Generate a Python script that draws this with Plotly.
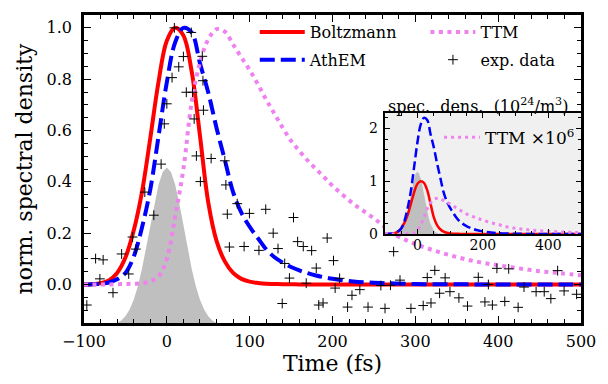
import plotly.graph_objects as go

# ---------------- data ----------------
T = [-100, -90, -80, -70, -60, -50, -40, -30, -20, -10, 0, 10, 20, 30, 40, 50, 60, 70, 80, 90,
     100, 110, 120, 130, 140, 150, 160, 170, 180, 190, 200, 225, 250, 275, 300, 325, 350, 375,
     400, 425, 450, 475, 500]

BOLTZMANN = [0.0, 0.001, 0.005, 0.016, 0.045, 0.105, 0.21, 0.36, 0.57, 0.79, 0.95, 1.0, 0.97,
             0.83, 0.58, 0.32, 0.17, 0.09, 0.045, 0.022, 0.011, 0.006, 0.003, 0.002, 0.001,
             0.001, 0.0, 0.0, 0.0, 0.0, 0.0, 0.0, 0.0, 0.0, 0.0, 0.0, 0.0, 0.0, 0.0, 0.0, 0.0,
             0.0, 0.0]

ATHEM = [0.0, 0.001, 0.003, 0.008, 0.02, 0.045, 0.108, 0.222, 0.37, 0.578, 0.788, 0.943, 1.0,
         0.982, 0.862, 0.748, 0.61, 0.485, 0.36, 0.28, 0.225, 0.18, 0.137, 0.106, 0.085, 0.068,
         0.055, 0.044, 0.035, 0.028, 0.022, 0.012, 0.007, 0.004, 0.002, 0.001, 0.001, 0.0, 0.0,
         0.0, 0.0, 0.0, 0.0]

TTM = [0.0, 0.0, 0.0, 0.0, 0.001, 0.002, 0.003, 0.005, 0.012, 0.032, 0.10, 0.265, 0.45, 0.71,
       0.865, 0.955, 0.995, 0.985, 0.935, 0.885, 0.835, 0.78, 0.72, 0.665, 0.61, 0.56, 0.52,
       0.483, 0.45, 0.418, 0.385, 0.315, 0.258, 0.195, 0.158, 0.13, 0.107, 0.088, 0.075, 0.063,
       0.052, 0.044, 0.036]

T_PULSE = [-100, -80, -70, -60, -55, -50, -45, -40, -35, -30, -25, -20, -15, -10, -5, 0, 5, 10,
           15, 20, 25, 30, 35, 40, 45, 50, 55, 60, 70, 80, 100]
PULSE = [0.0, 0.001, 0.004, 0.017, 0.032, 0.059, 0.101, 0.163, 0.249, 0.36, 0.492, 0.635, 0.775,
         0.893, 0.972, 1.0, 0.972, 0.893, 0.775, 0.635, 0.492, 0.36, 0.249, 0.163, 0.101, 0.059,
         0.032, 0.017, 0.004, 0.001, 0.0]

EXP_T = [-96.6, -86, -76.9, -80.8, -65, -54.6, -46, -41.4, -37.4, -26.6, -15.7, -6.9, -3.1, 0.0,
         6.3, 14.4, 20, 9.1, 29.5, 42.8, 43.6, 23.5, 31, 44.2, 33, 35.7, 53.5, 70, 40.5, 71.3,
         85, 73, 99.7, 119.4, 75.5, 93.3, 111.2, 128.4, 134.2, 142.3, 148, 139.3, 152.9, 157.9,
         164.7, 174.8, 180.4, 168.3, 183.4, 188.6, 193.6, 201.2, 208.6, 203.2, 223.5, 233,
         218.2, 242.9, 258.4, 263.4, 270, 273.8, 281.5, 294.7, 309.5, 318.9, 314.4, 323.5, 336,
         329.3, 341.8, 352.6, 363, 376, 384, 393, 388.2, 398.5, 412.7, 408, 424.1, 431.2, 445.8,
         455.6, 463.6, 471.8, 479.6, 494.7]
EXP_V = [-0.080, 0.101, 0.096, 0.022, -0.032, 0.119, 0.041, 0.185, 0.138, 0.36, 0.27, 0.469,
         0.626, 0.704, 0.806, 0.848, 0.888, 1.0, 0.982, 0.889, 0.794, 0.749, 0.749, 0.679, 0.645,
         0.501, 0.491, 0.482, 0.401, 0.388, 0.315, 0.274, 0.277, 0.293, 0.146, 0.148, 0.133,
         0.2, 0.14, 0.082, 0.025, -0.074, 0.261, 0.167, 0.148, 0.132, 0.064, 0.005, -0.08,
         -0.072, 0.181, 0.093, 0.024, -0.014, -0.042, -0.02, -0.088, -0.088, -0.004, -0.093,
         -0.003, 0.128, 0.017, -0.093, -0.082, -0.072, 0.027, 0.055, 0.026, -0.034, -0.028,
         -0.052, -0.084, 0.028, -0.068, -0.08, 0.0, 0.063, 0.061, -0.066, -0.089, -0.01, -0.028,
         -0.028, -0.055, 0.054, -0.025, -0.038]

# peak values of the absolute densities shown in the inset (10^24 / m^3)
BOLTZ_PEAK = 1.0
ATHEM_PEAK = 2.2
PULSE_PEAK = 1.18
TTM_PEAK_E6 = 0.68

X_TICKS = [-100, 0, 100, 200, 300, 400, 500]
Y_TICKS = [0.0, 0.2, 0.4, 0.6, 0.8, 1.0]

# ---------------- styling ----------------
FONT = "DejaVu Serif"
RED = "#ff0000"
BLUE = "#0000ff"
VIOLET = "#ee82ee"
GRAY = "#bfbfbf"
PULSE_OFFSET = -0.16
PULSE_SCALE = 0.616
MAIN_XR = [-100, 500]
MAIN_YR = [-0.15, 1.05]
INSET_XR = [-100, 500]
INSET_YR = [0, 2.3]

fig = go.Figure()

# main panel
fig.add_trace(go.Scatter(x=T_PULSE, y=[PULSE_OFFSET + PULSE_SCALE * p for p in PULSE],
                         mode="lines", fill="toself", fillcolor=GRAY,
                         line=dict(width=0, color="rgba(0,0,0,0)"),
                         showlegend=False, hoverinfo="skip"))
fig.add_trace(go.Scatter(x=T, y=BOLTZMANN, mode="lines", name="Boltzmann",
                         line=dict(color=RED, width=4, shape="spline"),
                         legend="legend", legendgroup="g1"))
fig.add_trace(go.Scatter(x=T, y=ATHEM, mode="lines", name="AthEM",
                         line=dict(color=BLUE, width=4, dash="15px,6px", shape="spline"),
                         legend="legend", legendgroup="g2"))
fig.add_trace(go.Scatter(x=T, y=TTM, mode="lines", name="TTM",
                         line=dict(color=VIOLET, width=4, dash="4px,4.5px", shape="spline"),
                         legend="legend2", legendgroup="g3"))
fig.add_trace(go.Scatter(x=EXP_T, y=EXP_V, mode="markers", name="exp. data",
                         marker=dict(symbol="cross-thin", size=7, color="black",
                                     line=dict(width=1, color="black")),
                         legend="legend2", legendgroup="g4"))

# inset
fig.add_trace(go.Scatter(x=T_PULSE, y=[PULSE_PEAK * p for p in PULSE], mode="lines",
                         fill="tozeroy", fillcolor=GRAY, line=dict(width=0, color="rgba(0,0,0,0)"),
                         xaxis="x2", yaxis="y2", showlegend=False, hoverinfo="skip"))
fig.add_trace(go.Scatter(x=T, y=[BOLTZ_PEAK * v for v in BOLTZMANN], mode="lines",
                         line=dict(color=RED, width=2.5, shape="spline"),
                         xaxis="x2", yaxis="y2", showlegend=False))
fig.add_trace(go.Scatter(x=T, y=[ATHEM_PEAK * v for v in ATHEM], mode="lines",
                         line=dict(color=BLUE, width=2.5, dash="9px,4px", shape="spline"),
                         xaxis="x2", yaxis="y2", showlegend=False))
fig.add_trace(go.Scatter(x=T, y=[TTM_PEAK_E6 * v for v in TTM], mode="lines",
                         name="TTM ×10<sup>6</sup>",
                         line=dict(color=VIOLET, width=3, dash="3px,4px", shape="spline"),
                         xaxis="x2", yaxis="y2", legend="legend3"))

axis_common = dict(showline=True, linecolor="black", mirror="allticks", ticks="inside",
                   tickcolor="black", showgrid=False, zeroline=False)

fig.update_layout(
    width=608, height=384,
    margin=dict(l=84, r=17, t=12, b=61),
    paper_bgcolor="white", plot_bgcolor="white",
    font=dict(family=FONT, color="black"),
    xaxis=dict(**axis_common, domain=[0, 1], anchor="y", range=MAIN_XR,
               tickvals=X_TICKS, linewidth=2.5, ticklen=7, tickwidth=1.3,
               minor=dict(dtick=20, tick0=0, ticklen=4, tickwidth=1, ticks="inside",
                          tickcolor="black"),
               tickfont=dict(family=FONT, size=16), ticklabelstandoff=2,
               title=dict(text="Time (fs)", font=dict(family=FONT, size=22), standoff=4)),
    yaxis=dict(**axis_common, domain=[0, 1], anchor="x", range=MAIN_YR,
               tickvals=Y_TICKS, tickformat=".1f", linewidth=2.5, ticklen=7, tickwidth=1.3,
               minor=dict(dtick=0.05, tick0=0, ticklen=4, tickwidth=1, ticks="inside",
                          tickcolor="black"),
               tickfont=dict(family=FONT, size=16), ticklabelstandoff=6,
               title=dict(text="norm. spectral density", font=dict(family=FONT, size=22),
                          standoff=8)),
    xaxis2=dict(**axis_common, domain=[0.605, 1.0], anchor="y2", range=INSET_XR,
                dtick=200, tick0=0, linewidth=2, ticklen=5, tickwidth=1.2,
                minor=dict(dtick=50, tick0=0, ticklen=3, tickwidth=1, ticks="inside",
                           tickcolor="black"),
                tickfont=dict(family=FONT, size=14), ticklabelstandoff=-3),
    yaxis2=dict(**axis_common, domain=[0.289, 0.683], anchor="x2", range=INSET_YR,
                dtick=1, tick0=0, linewidth=2, ticklen=5, tickwidth=1.2,
                minor=dict(dtick=0.2, tick0=0, ticklen=3, tickwidth=1, ticks="inside",
                           tickcolor="black"),
                tickfont=dict(family=FONT, size=14), ticklabelstandoff=2),
    legend=dict(x=0.3436, y=1.0, xanchor="left", yanchor="top", bgcolor="rgba(0,0,0,0)",
                font=dict(family=FONT, size=16), tracegroupgap=4, itemwidth=45),
    legend2=dict(x=0.687, y=1.0, xanchor="left", yanchor="top", bgcolor="rgba(0,0,0,0)",
                 font=dict(family=FONT, size=16), tracegroupgap=4, itemwidth=45),
    legend3=dict(x=0.7144, y=0.66, xanchor="left", yanchor="top", bgcolor="rgba(0,0,0,0)",
                 font=dict(family=FONT, size=17), itemwidth=36),
    shapes=[dict(type="rect", xref="x2", yref="y2", x0=INSET_XR[0], x1=INSET_XR[1],
                 y0=INSET_YR[0], y1=INSET_YR[1], fillcolor="#f0f0f0",
                 line=dict(width=0), layer="below")],
    annotations=[dict(text="spec.\u00a0 dens.\u00a0 (10<sup>24</sup>/m<sup>3</sup>)",
                      xref="paper", yref="paper", x=0.9787, y=0.707, xanchor="right",
                      yanchor="middle", showarrow=False, font=dict(family=FONT, size=16))],
)

fig.write_html("out.html")
